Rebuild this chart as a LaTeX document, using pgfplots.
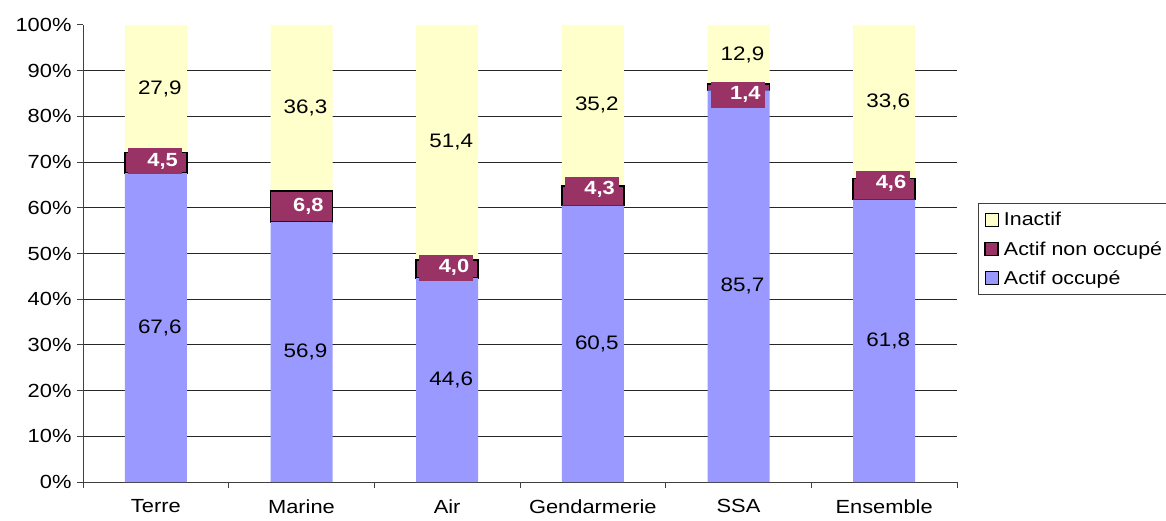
\documentclass[border=0pt]{standalone}
\usepackage{pgfplots}
\pgfplotsset{compat=1.18}
\usepackage{fontspec}
\setmainfont[FakeStretch=1.15]{Liberation Sans}
\definecolor{cblue}{HTML}{9999FF}
\definecolor{cmaroon}{HTML}{993366}
\definecolor{cyellow}{HTML}{FFFFCC}
\pgfplotstableread{
x y l
0 86.05 27,9
1 81.85 36,3
2 74.30 51,4
3 82.40 35,2
4 93.55 12,9
5 83.20 33,6
}\inactlab
\pgfplotstableread{
x y l
0 33.80 67,6
1 28.45 56,9
2 22.30 44,6
3 30.25 60,5
4 42.85 85,7
5 30.90 61,8
}\occlab
\pgfplotstableread{
x y l
0 70.2 4,5
1 60.4 6,8
2 46.9 4,0
3 64.0 4,3
4 84.7 1,4
5 65.3 4,6
}\nonocclab
\begin{document}
\begin{tikzpicture}[x=1pt,y=1pt]
\pgfplotsset{
  base/.style={
    scale only axis, width=874pt, height=457pt,
    at={(83pt,38pt)}, anchor=south west,
    xmin=-0.5, xmax=5.5, ymin=0, ymax=100,
  },
  sq/.style={legend image code/.code={\draw[##1] (0pt,-6.5pt) rectangle (13pt,6.5pt); \path (16pt,0pt);}},
}
\begin{axis}[base,
  ybar stacked, bar width=62pt,
  axis x line*=bottom, axis y line*=left,
  axis line style={black!75, line width=1pt},
  xtick={0,...,5}, xticklabels={Terre,Marine,Air,Gendarmerie,SSA,Ensemble},
  major x tick style={draw=none},
  minor xtick={-0.5,0.5,...,5.5},
  minor x tick style={black!75, line width=1pt},
  minor tick length=6pt,
  major tick length=6pt,
  tick align=outside,
  ytick={0,10,...,90},
  yticklabels={0\%,10\%,20\%,30\%,40\%,50\%,60\%,70\%,80\%,90\%},
  extra y ticks={100}, extra y tick labels={100\%},
  extra y tick style={grid=none},
  y tick style={black!75, line width=1pt},
  ymajorgrids, grid style={black!85, line width=0.9pt},
  tick label style={font=\fontsize{19pt}{22pt}\selectfont},
  xticklabel style={yshift=-8pt},
  yticklabel style={xshift=-2pt},
  legend style={at={(1.024,0.6105)}, anchor=north west, draw=black!75, line width=0.8pt,
    font=\fontsize{18.6pt}{22pt}\selectfont, row sep=10pt, inner xsep=6pt, inner ysep=7pt},
  legend cell align=left,
  reverse legend,
]
\addplot[fill=cblue, draw=none, sq] coordinates {(0,67.6) (1,56.9) (2,44.6) (3,60.5) (4,85.7) (5,61.8)};
\addplot[fill=cmaroon, draw=black, line width=1.6pt, sq] coordinates {(0,4.5) (1,6.8) (2,4.0) (3,4.3) (4,1.4) (5,4.6)};
\addplot[fill=cyellow, draw=none, sq] coordinates {(0,27.9) (1,36.3) (2,51.4) (3,35.2) (4,12.9) (5,33.6)};
\legend{Actif occupé, Actif non occupé, Inactif}
\end{axis}
\begin{axis}[base, hide axis]
\addplot[draw=none, mark=none, nodes near coords, point meta=explicit symbolic,
  every node near coord/.append style={anchor=center, xshift=4pt, text=black,
    font=\fontsize{19.5pt}{22pt}\selectfont}]
  table[x=x, y=y, meta=l] {\inactlab};
\addplot[draw=none, mark=none, nodes near coords, point meta=explicit symbolic,
  every node near coord/.append style={anchor=center, xshift=4pt, text=black,
    font=\fontsize{19.5pt}{22pt}\selectfont}]
  table[x=x, y=y, meta=l] {\occlab};
\addplot[draw=none, mark=none, nodes near coords, point meta=explicit symbolic,
  every node near coord/.append style={anchor=center, xshift=-1pt, text=white,
    fill=cmaroon, minimum height=26pt, text width=46pt, align=right, inner xsep=4pt,
    font=\bfseries\fontsize{19pt}{22pt}\selectfont}]
  table[x=x, y=y, meta=l] {\nonocclab};
\end{axis}
\pgfresetboundingbox
\useasboundingbox (0,0) rectangle (1166,520);
\end{tikzpicture}
\end{document}
